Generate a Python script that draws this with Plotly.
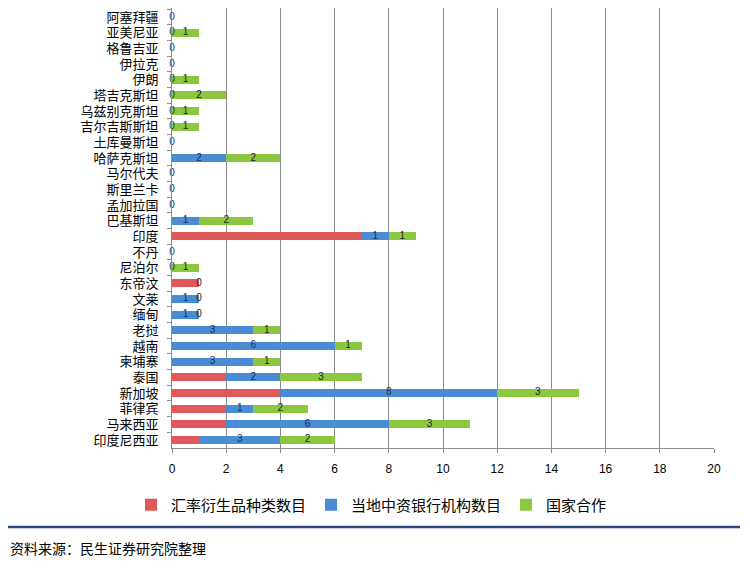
import plotly.graph_objects as go

countries = ["阿塞拜疆", "亚美尼亚", "格鲁吉亚", "伊拉克", "伊朗", "塔吉克斯坦", "乌兹别克斯坦",
             "吉尔吉斯斯坦", "土库曼斯坦", "哈萨克斯坦", "马尔代夫", "斯里兰卡", "孟加拉国", "巴基斯坦",
             "印度", "不丹", "尼泊尔", "东帝汶", "文莱", "缅甸", "老挝", "越南", "柬埔寨", "泰国",
             "新加坡", "菲律宾", "马来西亚", "印度尼西亚"]

fx_derivatives = [0, 0, 0, 0, 0, 0, 0, 0, 0, 0, 0, 0, 0, 0,
                  7, 0, 0, 1, 0, 0, 0, 0, 0, 2, 4, 2, 2, 1]
bank_branches = [0, 0, 0, 0, 0, 0, 0, 0, 0, 2, 0, 0, 0, 1,
                 1, 0, 0, 0, 1, 1, 3, 6, 3, 2, 8, 1, 6, 3]
cooperation = [None, 1, None, None, 1, 2, 1, 1, None, 2, None, None, None, 2,
               1, None, 1, None, 0, 0, 1, 1, 1, 3, 3, 2, 3, 2]

series_names = ["汇率衍生品种类数目", "当地中资银行机构数目", "国家合作"]
colors = ["#E05858", "#4A8CD4", "#8DC63F"]
x_ticks = [0, 2, 4, 6, 8, 10, 12, 14, 16, 18, 20]

font_cjk = "Noto Sans CJK SC"

fig = go.Figure()
green_vals = [v if v is not None else 0 for v in cooperation]
for name, vals, col in zip(series_names, [fx_derivatives, bank_branches, green_vals], colors):
    fig.add_trace(go.Bar(y=countries, x=vals, name=name, orientation="h",
                         marker=dict(color=col, line=dict(width=0)), hoverinfo="x+y"))

# data labels (blue & green segments)
blue_x = [r + b / 2 for r, b in zip(fx_derivatives, bank_branches)]
blue_t = [str(b) for b in bank_branches]
fig.add_trace(go.Scatter(y=countries, x=blue_x, text=blue_t, mode="text", cliponaxis=False,
                         textfont=dict(size=10, color="#1B2A55", family="Liberation Sans"),
                         showlegend=False, hoverinfo="skip"))
gy, gx, gt = [], [], []
for c, r, b, g in zip(countries, fx_derivatives, bank_branches, cooperation):
    if g is not None:
        gy.append(c); gx.append(r + b + g / 2); gt.append(str(g))
fig.add_trace(go.Scatter(y=gy, x=gx, text=gt, mode="text", cliponaxis=False,
                         textfont=dict(size=10, color="#222222", family="Liberation Sans"),
                         showlegend=False, hoverinfo="skip"))

fig.update_layout(
    width=750, height=568,
    margin=dict(l=164, r=44, t=0, b=128),
    barmode="stack", bargap=0.48,
    plot_bgcolor="white", paper_bgcolor="white",
    font=dict(family=font_cjk, color="#000000"),
    legend=dict(orientation="h", x=-0.0756, xanchor="left", y=-0.1295, yanchor="middle",
                font=dict(size=15, family=font_cjk), traceorder="normal",
                itemwidth=30, tracegroupgap=0),
    xaxis=dict(range=[0, 20], tickvals=x_ticks, showgrid=True, gridcolor="#8C8C8C", gridwidth=1,
               zeroline=False, showline=True, linecolor="#8C8C8C", ticks="outside", ticklen=4,
               tickcolor="#8C8C8C", tickfont=dict(size=12, family="Liberation Sans", color="#000"),
               ticklabelstandoff=6, automargin=False),
    yaxis=dict(categoryorder="array", categoryarray=countries, range=[27.512, -0.576],
               tickmode="linear", dtick=1,
               showline=True, linecolor="#8C8C8C", ticks="outside", ticklen=4, tickcolor="#8C8C8C",
               tickson="boundaries", showgrid=False, tickfont=dict(size=13, family=font_cjk, color="#000"),
               ticklabelstandoff=10, automargin=False),
)

fig.add_shape(type="line", xref="paper", yref="paper", x0=-0.3026, x1=1.048,
              y0=-0.1795, y1=-0.1795, line=dict(color="#2E4A7A", width=2.5))
fig.add_annotation(xref="paper", yref="paper", x=-0.3026, y=-0.227, xanchor="left", yanchor="middle",
                   text="资料来源：民生证券研究院整理", showarrow=False,
                   font=dict(size=14, family=font_cjk, color="#000"))

fig.write_html("out.html")
